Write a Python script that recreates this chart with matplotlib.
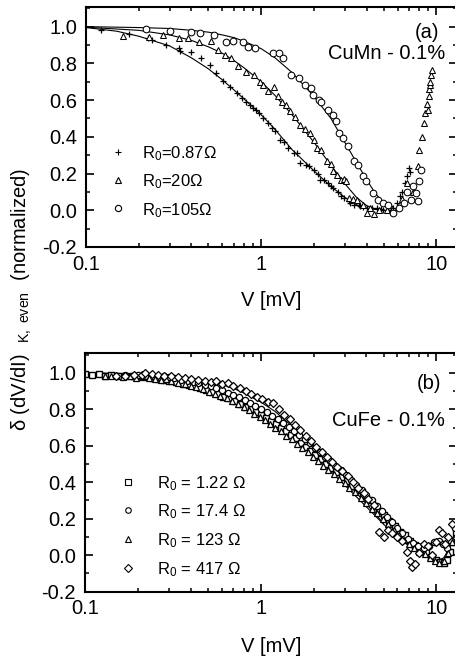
import matplotlib
matplotlib.use('Agg')
import matplotlib.pyplot as plt
from matplotlib.ticker import LogLocator, NullFormatter, FixedLocator, FixedFormatter, MultipleLocator, FormatStrFormatter

plt.rcParams.update({
    'font.family': ['Liberation Sans', 'DejaVu Sans'],
    'mathtext.fontset': 'custom',
    'mathtext.rm': 'Liberation Sans',
    'mathtext.it': 'Liberation Sans:italic',
    'mathtext.bf': 'Liberation Sans:bold',
    'axes.unicode_minus': False,
})

# ---------------- Panel (a): CuMn 0.1% ----------------
a_plus_V = [0.122, 0.177, 0.225, 0.238, 0.286, 0.339, 0.345, 0.398, 0.454, 0.511, 0.552, 0.605, 0.66,
            0.73, 0.78, 0.82, 0.86, 0.895, 0.93, 0.975, 1.03, 1.09, 1.15, 1.2, 1.28, 1.35, 1.42, 1.53,
            1.6, 1.67, 1.8, 1.87, 1.99, 2.1, 2.16, 2.27, 2.4, 2.49, 2.58, 2.75, 2.84, 2.95, 3.15, 3.23,
            3.37, 3.6, 3.67, 3.8, 4.02, 4.3, 4.59, 4.8, 4.98, 5.3, 5.4, 5.68, 5.95, 6.2, 6.4, 6.6, 6.8, 6.97, 7.1]
a_plus_y = [0.98, 0.96, 0.937, 0.93, 0.90, 0.886, 0.87, 0.86, 0.83, 0.79, 0.747, 0.705, 0.674,
            0.638, 0.61, 0.59, 0.575, 0.556, 0.545, 0.53, 0.50, 0.475, 0.45, 0.43, 0.384, 0.37, 0.34, 0.312,
            0.312, 0.258, 0.245, 0.239, 0.221, 0.2, 0.167, 0.167, 0.15, 0.13, 0.122, 0.1, 0.076, 0.067, 0.05, 0.04,
            0.031, 0.03, 0.022, 0.02, 0.013, 0.01, 0.013, 0.005, 0.004, 0.0, 0.022, 0.013, 0.04, 0.076, 0.1, 0.149, 0.185, 0.23, 0.21]

a_tri_V = [0.162, 0.23, 0.274, 0.341, 0.381, 0.444, 0.518, 0.565, 0.618, 0.673, 0.735, 0.82, 0.91, 0.99,
           1.03, 1.09, 1.18, 1.24, 1.31, 1.38, 1.46, 1.55, 1.67, 1.78, 1.9, 2.0, 2.08, 2.2, 2.38, 2.5,
           2.58, 2.7, 2.84, 2.95, 3.04, 3.17, 3.35, 3.53, 3.8, 4.02, 4.2, 4.39, 4.7, 5.2, 5.6, 6.0, 6.4,
           6.8, 7.3, 7.8, 7.95, 8.3, 8.45, 8.6, 8.8, 9.0, 9.05, 9.1, 9.15, 9.2, 9.3, 9.41]
a_tri_y = [0.95, 0.946, 0.955, 0.94, 0.937, 0.915, 0.922, 0.873, 0.846, 0.828, 0.783, 0.755, 0.737, 0.70,
           0.683, 0.647, 0.674, 0.62, 0.592, 0.575, 0.538, 0.51, 0.465, 0.44, 0.42, 0.385, 0.34, 0.33, 0.266, 0.25,
           0.212, 0.19, 0.167, 0.17, 0.158, 0.067, 0.06, 0.058, 0.03, -0.014, 0.01, -0.023, 0.0, 0.004, 0.0, 0.02, 0.06,
           0.149, 0.1, 0.239, 0.33, 0.40, 0.475, 0.53, 0.58, 0.547, 0.62, 0.66, 0.683, 0.70, 0.734, 0.765]

a_circ_V = [0.221, 0.30, 0.40, 0.446, 0.54, 0.63, 0.69, 0.787, 0.84, 0.916, 1.16, 1.27, 1.33, 1.48, 1.65,
            1.77, 1.93, 1.97, 2.15, 2.2, 2.4, 2.56, 2.67, 2.79, 2.92, 3.11, 3.4, 3.55, 3.79, 3.96, 4.32,
            4.62, 4.93, 5.26, 5.62, 6.13, 6.55, 6.8, 7.14, 7.3, 7.63, 7.8, 7.96, 8.14]
a_circ_y = [0.986, 0.976, 0.973, 0.964, 0.955, 0.918, 0.924, 0.918, 0.891, 0.886, 0.859, 0.855, 0.828, 0.737, 0.719,
            0.683, 0.665, 0.629, 0.601, 0.592, 0.547, 0.52, 0.484, 0.42, 0.393, 0.348, 0.266, 0.248, 0.185, 0.158, 0.094,
            0.058, 0.04, 0.031, -0.014, 0.013, 0.04, 0.10, 0.058, 0.13, 0.094, 0.05, 0.158, 0.221]

a_fit_plus_V = [0.1, 0.15, 0.2, 0.3, 0.4, 0.5, 0.6, 0.7, 0.8, 1.0, 1.2, 1.5, 2.0, 2.5, 3.0, 3.5, 4.0, 5.0]
a_fit_plus_y = [0.995, 0.975, 0.948, 0.895, 0.83, 0.77, 0.71, 0.655, 0.605, 0.52, 0.44, 0.33, 0.215, 0.13, 0.07, 0.03, 0.01, 0.0]
a_fit_tri_V = [0.1, 0.2, 0.3, 0.4, 0.5, 0.6, 0.7, 0.8, 1.0, 1.2, 1.5, 2.0, 2.5, 3.0, 3.5, 4.0, 4.5]
a_fit_tri_y = [0.997, 0.98, 0.955, 0.925, 0.89, 0.855, 0.815, 0.775, 0.70, 0.625, 0.52, 0.37, 0.245, 0.145, 0.07, 0.025, 0.005]
a_fit_circ_V = [0.1, 0.2, 0.3, 0.4, 0.5, 0.6, 0.7, 0.8, 1.0, 1.2, 1.5, 2.0, 2.5, 3.0, 3.5, 4.0, 4.5, 5.0, 5.5]
a_fit_circ_y = [1.0, 0.995, 0.99, 0.98, 0.97, 0.955, 0.94, 0.92, 0.88, 0.83, 0.75, 0.62, 0.50, 0.37, 0.26, 0.165, 0.09, 0.04, 0.01]

a_labels = ['R$_0$=0.87Ω', 'R$_0$=20Ω', 'R$_0$=105Ω']

# ---------------- Panel (b): CuFe 0.1% ----------------
b_sq_V = [0.10, 0.11, 0.12, 0.13, 0.14, 0.155, 0.17, 0.185, 0.2, 0.22, 0.24, 0.26, 0.28, 0.3, 0.33, 0.36, 0.39,
          0.42, 0.45, 0.49, 0.53, 0.57, 0.61, 0.66, 0.71, 0.76, 0.82, 0.88, 0.94, 1.0, 1.07, 1.14, 1.22, 1.3,
          1.39, 1.48, 1.58, 1.69, 1.8, 1.92, 2.05, 2.2, 2.35, 2.5, 2.7, 2.9, 3.1, 3.3, 3.55, 3.8, 4.1, 4.4,
          4.7, 5.0, 5.4, 5.8, 6.2, 6.6, 7.1, 7.6, 8.1, 8.7, 9.3, 9.9, 10.5, 11.0, 11.5, 12.0, 12.5, 13.0]
b_sq_y = [0.995, 0.99, 0.993, 0.985, 0.99, 0.985, 0.98, 0.983, 0.975, 0.978, 0.97, 0.965, 0.962, 0.955, 0.95, 0.94, 0.935,
          0.925, 0.915, 0.905, 0.895, 0.885, 0.87, 0.86, 0.845, 0.83, 0.815, 0.80, 0.785, 0.77, 0.755, 0.735, 0.72, 0.70,
          0.68, 0.66, 0.64, 0.615, 0.595, 0.57, 0.55, 0.525, 0.5, 0.48, 0.455, 0.43, 0.405, 0.38, 0.355, 0.33, 0.3, 0.27,
          0.245, 0.22, 0.19, 0.16, 0.13, 0.11, 0.08, 0.055, 0.035, 0.015, -0.01, -0.025, -0.035, -0.04, -0.025, 0.02, 0.07, 0.13]

b_circ_V = [0.17, 0.185, 0.2, 0.22, 0.24, 0.26, 0.28, 0.3, 0.32, 0.35, 0.38, 0.41, 0.44, 0.48, 0.52, 0.56, 0.6,
            0.65, 0.7, 0.75, 0.81, 0.87, 0.93, 1.0, 1.08, 1.16, 1.25, 1.34, 1.44, 1.55, 1.66, 1.78, 1.9, 2.03,
            2.17, 2.32, 2.48, 2.65, 2.85, 3.05, 3.27, 3.5, 3.75, 4.0, 4.3, 4.6, 4.9, 5.25, 5.6, 6.0, 6.4, 6.9,
            7.4, 7.9, 8.5, 9.1, 9.7, 10.3, 10.9, 11.5, 12.1, 12.7]
b_circ_y = [0.99, 0.985, 0.988, 0.98, 0.985, 0.978, 0.98, 0.975, 0.97, 0.962, 0.955, 0.95, 0.945, 0.935, 0.925, 0.915, 0.905,
            0.89, 0.88, 0.865, 0.85, 0.835, 0.82, 0.80, 0.785, 0.765, 0.745, 0.725, 0.705, 0.68, 0.66, 0.635, 0.615, 0.59,
            0.565, 0.54, 0.515, 0.49, 0.465, 0.44, 0.41, 0.385, 0.355, 0.33, 0.3, 0.27, 0.24, 0.21, 0.18, 0.15, 0.12, 0.09,
            0.065, 0.05, 0.04, 0.05, 0.07, 0.08, 0.06, 0.04, 0.08, 0.15]

b_tri_V = [0.13, 0.14, 0.15, 0.165, 0.18, 0.195, 0.21, 0.23, 0.25, 0.27, 0.29, 0.31, 0.34, 0.37, 0.4, 0.43, 0.47,
           0.51, 0.55, 0.59, 0.64, 0.69, 0.74, 0.8, 0.86, 0.92, 0.99, 1.06, 1.13, 1.21, 1.3, 1.4, 1.5, 1.6,
           1.72, 1.85, 1.98, 2.12, 2.27, 2.43, 2.6, 2.8, 3.0, 3.2, 3.45, 3.7, 4.0, 4.3, 4.6, 4.95, 5.3, 5.7,
           6.1, 6.5, 7.0, 7.5, 8.0, 8.6, 9.2, 9.8, 10.4, 11.0, 11.6, 12.2]
b_tri_y = [0.985, 0.98, 0.99, 0.975, 0.98, 0.972, 0.98, 0.97, 0.965, 0.96, 0.965, 0.955, 0.945, 0.94, 0.93, 0.92, 0.91,
           0.895, 0.885, 0.875, 0.86, 0.845, 0.83, 0.81, 0.795, 0.775, 0.76, 0.74, 0.72, 0.70, 0.68, 0.655, 0.635, 0.61,
           0.59, 0.565, 0.54, 0.515, 0.49, 0.465, 0.445, 0.42, 0.395, 0.37, 0.345, 0.315, 0.285, 0.255, 0.23, 0.2, 0.17, 0.14,
           0.11, 0.085, 0.06, 0.04, 0.02, 0.005, -0.015, -0.03, -0.04, -0.03, 0.01, 0.07]

b_dia_V = [0.15, 0.17, 0.19, 0.21, 0.22, 0.24, 0.26, 0.28, 0.31, 0.34, 0.37, 0.4, 0.44, 0.48, 0.52, 0.56, 0.6,
           0.65, 0.7, 0.76, 0.82, 0.88, 0.95, 1.02, 1.1, 1.18, 1.27, 1.36, 1.46, 1.57, 1.68, 1.8, 1.93, 2.07,
           2.22, 2.38, 2.55, 2.73, 2.92, 3.13, 3.35, 3.6, 3.85, 4.1, 4.4, 4.7, 5.0, 5.3, 5.6, 6.0, 6.4, 6.8,
           7.1, 7.3, 7.6, 8.0, 8.5, 9.0, 9.5, 10.0, 10.4, 10.8, 11.2, 11.7, 12.2]
b_dia_y = [0.98, 0.985, 0.99, 0.99, 1.0, 0.995, 0.99, 0.985, 0.98, 0.975, 0.97, 0.965, 0.96, 0.955, 0.95, 0.955, 0.94,
           0.945, 0.925, 0.915, 0.9, 0.885, 0.87, 0.855, 0.84, 0.835, 0.8, 0.77, 0.745, 0.715, 0.685, 0.655, 0.625, 0.595,
           0.565, 0.54, 0.51, 0.485, 0.46, 0.435, 0.4, 0.37, 0.34, 0.31, 0.275, 0.13, 0.1, 0.14, 0.12, 0.1, 0.08, 0.02,
           -0.03, -0.065, -0.05, 0.01, 0.06, 0.05, 0.0, 0.07, 0.14, 0.12, 0.06, 0.1, 0.17]

b_fit1_V = [0.1, 0.2, 0.3, 0.4, 0.5, 0.6, 0.7, 0.8, 1.0, 1.2, 1.5, 2.0, 2.5, 3.0, 4.0, 5.0, 6.0, 7.0, 8.0, 9.0, 10.0, 11.0, 12.0, 13.0]
b_fit1_y = [1.0, 0.99, 0.975, 0.955, 0.93, 0.905, 0.875, 0.845, 0.79, 0.735, 0.655, 0.545, 0.46, 0.385, 0.265, 0.17, 0.1,
            0.05, 0.015, -0.015, -0.03, -0.015, 0.05, 0.14]
b_fit2_V = [0.1, 0.2, 0.3, 0.4, 0.5, 0.6, 0.7, 0.8, 1.0, 1.2, 1.5, 2.0, 2.5, 3.0, 4.0, 5.0]
b_fit2_y = [1.0, 0.995, 0.985, 0.97, 0.955, 0.935, 0.915, 0.89, 0.84, 0.79, 0.71, 0.60, 0.50, 0.415, 0.28, 0.175]

b_labels = ['R$_0$ = 1.22 Ω', 'R$_0$ = 17.4 Ω', 'R$_0$ = 123 Ω', 'R$_0$ = 417 Ω']

x_ticks = [0.1, 1, 10]
x_ticklabels = ['0.1', '1', '10']

FS = 14.5
FS_LEG = 12

fig = plt.figure(figsize=(4.55, 6.61), dpi=100)
ax1 = fig.add_axes([86 / 455, 1 - 247 / 661, 371 / 455, 240 / 661])
ax2 = fig.add_axes([85 / 455, 1 - 591.7 / 661, 372 / 455, 238.4 / 661])


def style(ax):
    ax.set_xscale('log')
    ax.set_xlim(0.1, 13.1)
    ax.set_ylim(-0.2, 1.107)
    ax.xaxis.set_major_locator(FixedLocator(x_ticks))
    ax.xaxis.set_major_formatter(FixedFormatter(x_ticklabels))
    ax.xaxis.set_minor_locator(LogLocator(base=10, subs=range(2, 10)))
    ax.xaxis.set_minor_formatter(NullFormatter())
    ax.yaxis.set_major_locator(MultipleLocator(0.2))
    ax.yaxis.set_minor_locator(MultipleLocator(0.1))
    ax.yaxis.set_major_formatter(FormatStrFormatter('%.1f'))
    ax.tick_params(which='both', direction='in', top=True, right=True, labelsize=FS)
    ax.tick_params(which='major', length=5.5, width=1.2)
    ax.tick_params(which='minor', length=3.2, width=1.1)
    ax.tick_params(axis='y', pad=6.5)
    ax.tick_params(axis='x', pad=5.5)
    for s in ax.spines.values():
        s.set_linewidth(1.5)


style(ax1)
style(ax2)

mk = dict(ls='none', mfc='white', mec='black', color='black')
lw_fit = 0.8

# Panel (a)
ax1.plot(a_fit_plus_V, a_fit_plus_y, color='black', lw=lw_fit)
ax1.plot(a_fit_tri_V, a_fit_tri_y, color='black', lw=lw_fit)
ax1.plot(a_fit_circ_V, a_fit_circ_y, color='black', lw=lw_fit)
ax1.plot(a_plus_V, a_plus_y, marker='+', ms=5, mew=0.9, **mk)
ax1.plot(a_tri_V, a_tri_y, marker='^', ms=4.8, mew=0.75, **mk)
ax1.plot(a_circ_V, a_circ_y, marker='o', ms=4.8, mew=0.75, **mk)

leg_a_markers = ['+', '^', 'o']
leg_a_my = [0.395, 0.279, 0.162]
leg_a_ty = [0.369, 0.251, 0.133]
for m, lab, my, ty in zip(leg_a_markers, a_labels, leg_a_my, leg_a_ty):
    ax1.plot([0.086], [my], transform=ax1.transAxes, marker=m, ms=4.5, mew=0.8, **mk)
    ax1.text(0.151, ty, lab, transform=ax1.transAxes, fontsize=FS_LEG, va='baseline', ha='left')

ax1.text(0.951, 0.894, '(a)', transform=ax1.transAxes, fontsize=FS, ha='right', va='center')
ax1.text(0.968, 0.807, 'CuMn - 0.1%', transform=ax1.transAxes, fontsize=FS, ha='right', va='center')
ax1.set_xlabel('V [mV]', fontsize=FS)
ax1.xaxis.set_label_coords(0.5, -0.182)

# Panel (b)
ax2.plot(b_fit1_V, b_fit1_y, color='black', lw=lw_fit)
ax2.plot(b_fit2_V, b_fit2_y, color='black', lw=lw_fit)
ax2.plot(b_sq_V, b_sq_y, marker='s', ms=4, mew=1.0, **mk)
ax2.plot(b_circ_V, b_circ_y, marker='o', ms=4.5, mew=0.9, **mk)
ax2.plot(b_tri_V, b_tri_y, marker='^', ms=4.5, mew=0.9, **mk)
ax2.plot(b_dia_V, b_dia_y, marker='D', ms=4.2, mew=0.9, **mk)

leg_b_markers = ['s', 'o', '^', 'D']
leg_b_my = [0.462, 0.343, 0.22, 0.098]
leg_b_ty = [0.434, 0.315, 0.196, 0.073]
for m, lab, my, ty in zip(leg_b_markers, b_labels, leg_b_my, leg_b_ty):
    ax2.plot([0.116], [my], transform=ax2.transAxes, marker=m, ms=4, mew=0.8, **mk)
    ax2.text(0.193, ty, lab, transform=ax2.transAxes, fontsize=FS_LEG, va='baseline', ha='left')

ax2.text(0.959, 0.874, '(b)', transform=ax2.transAxes, fontsize=FS, ha='right', va='center')
ax2.text(0.968, 0.718, 'CuFe - 0.1%', transform=ax2.transAxes, fontsize=FS, ha='right', va='center')
ax2.set_xlabel('V [mV]', fontsize=FS)
ax2.xaxis.set_label_coords(0.5, -0.19)

fig.text(0.048, 0.547, 'δ (dV/dI)  $_{\\mathrm{K,\\ even}}$  (normalized)', rotation=90,
         ha='center', va='center', fontsize=FS)

fig.savefig('out.png', dpi=100)
